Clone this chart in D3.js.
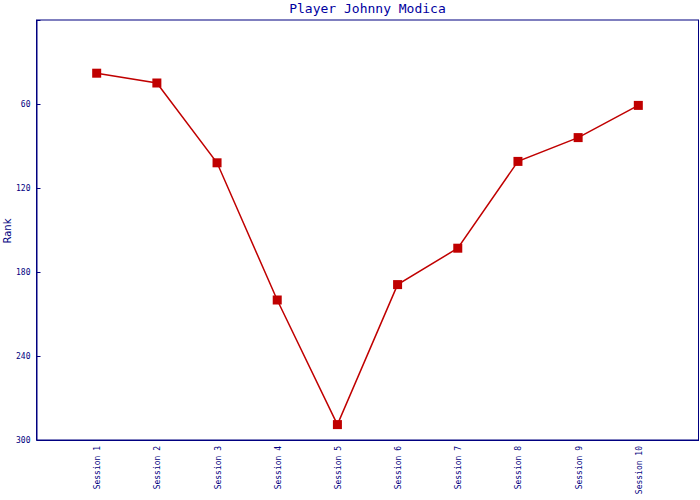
<!DOCTYPE html>
<html>
<head>
<meta charset="utf-8">
<script src="https://cdn.jsdelivr.net/npm/d3@7"></script>
<style>
  body { margin: 0; background: #fff; }
  svg { display: block; }
</style>
</head>
<body>
<script>
const title = "Player Johnny Modica";
const yLabel = "Rank";
const sessions = ["Session 1","Session 2","Session 3","Session 4","Session 5","Session 6","Session 7","Session 8","Session 9","Session 10"];
const ranks = [38, 45, 102, 200, 289, 189, 163, 101, 84, 61];
const yTicks = [60, 120, 180, 240, 300];

const W = 700, H = 500;
const m = { left: 36.5, right: 1.5, top: 20, bottom: 60 };
const axisColor = "#000080";
const lineColor = "#c00000";

const svg = d3.select("body").append("svg").attr("width", W).attr("height", H);

const x = d3.scalePoint().domain(sessions).range([m.left, W - m.right]).padding(1);
const y = d3.scaleLinear().domain([0, 300]).range([m.top, H - m.bottom]);

// plot border
svg.append("rect")
  .attr("x", m.left).attr("y", m.top)
  .attr("width", W - m.right - m.left).attr("height", H - m.bottom - m.top)
  .attr("fill", "none").attr("stroke", axisColor).attr("stroke-width", 1);

// y axis with inward ticks
const yAxis = svg.append("g")
  .attr("transform", `translate(${m.left},0)`)
  .call(d3.axisRight(y).tickValues(yTicks).tickSize(4).tickFormat(d3.format("d")));
yAxis.select(".domain").attr("stroke", axisColor);
yAxis.selectAll(".tick line").attr("stroke", axisColor);
yAxis.selectAll(".tick text")
  .attr("x", -6).attr("text-anchor", "end")
  .attr("fill", axisColor)
  .style("font-family", "'DejaVu Sans Mono', monospace").style("font-size", "8px");

// x labels (rotated)
const xAxis = svg.append("g")
  .attr("transform", `translate(0,${H - m.bottom})`)
  .call(d3.axisBottom(x).tickSize(0));
xAxis.select(".domain").attr("stroke", axisColor);
xAxis.selectAll(".tick text")
  .attr("transform", "translate(3,6) rotate(-90)")
  .attr("x", 0).attr("y", 0).attr("dy", 0)
  .attr("text-anchor", "end")
  .attr("fill", axisColor)
  .style("font-family", "'DejaVu Sans Mono', monospace").style("font-size", "8px");

// line
const pts = sessions.map((s, i) => [x(s), y(ranks[i])]);
svg.append("path")
  .attr("d", d3.line()(pts))
  .attr("fill", "none").attr("stroke", lineColor).attr("stroke-width", 1.5);

// markers
svg.selectAll("rect.pt").data(sessions).enter().append("rect")
  .attr("class", "pt")
  .attr("x", (s) => x(s) - 4.5)
  .attr("y", (s, i) => y(ranks[i]) - 4.5)
  .attr("width", 9).attr("height", 9)
  .attr("fill", lineColor);

// title
svg.append("text")
  .attr("x", (m.left + W - m.right) / 2).attr("y", 13)
  .attr("text-anchor", "middle")
  .attr("fill", "#0000a0")
  .style("font-family", "'DejaVu Sans Mono', monospace").style("font-size", "13px")
  .text(title);

// y label
svg.append("text")
  .attr("transform", `translate(11,${(m.top + H - m.bottom) / 2 + 1}) rotate(-90)`)
  .attr("text-anchor", "middle")
  .attr("fill", axisColor)
  .style("font-family", "'DejaVu Sans', sans-serif").style("font-size", "10px")
  .text(yLabel);
</script>
</body>
</html>
